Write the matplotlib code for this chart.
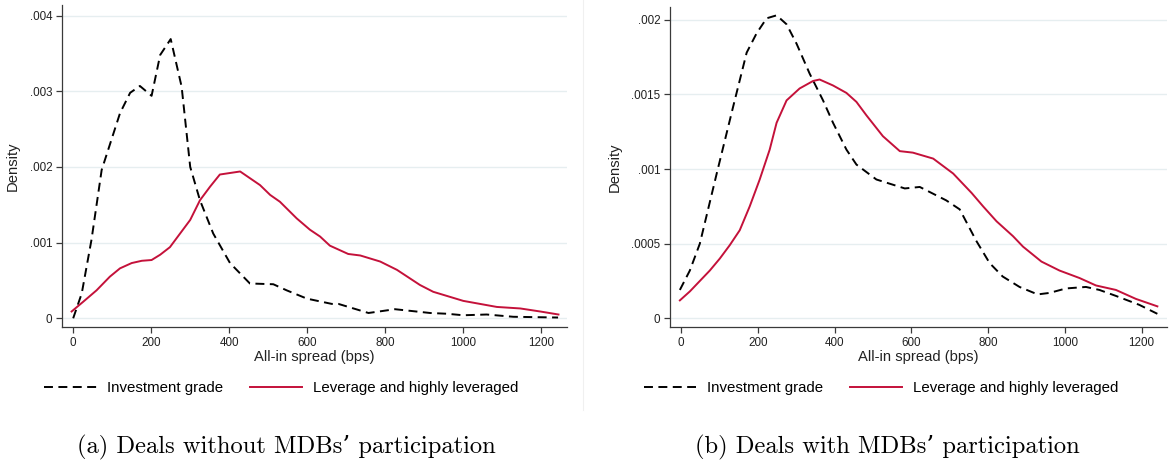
import matplotlib
matplotlib.use("Agg")
import matplotlib.pyplot as plt
from matplotlib.lines import Line2D

plt.rcParams['font.family'] = ['Liberation Sans', 'DejaVu Sans']

# ---------------- data ----------------
# Panel (a): deals without MDBs' participation
a_ig_x = [0, 22, 47, 73, 120, 146, 171, 201, 223, 250, 278, 300, 325, 359, 402, 453,
          513, 547, 599, 663, 680, 757, 825, 915, 958, 1000, 1060, 1128, 1243]
a_ig_y = [0.0, 0.00033, 0.00104, 0.00196, 0.00271, 0.00298, 0.00307, 0.00294, 0.00348,
          0.00369, 0.00306, 0.00200, 0.00156, 0.00112, 0.00073, 0.00046, 0.00045, 0.00037,
          0.00026, 0.00019, 0.00019, 0.00007, 0.00012, 0.00007, 0.00006, 0.00004, 0.00005,
          0.00002, 0.00001]
a_lev_x = [-4, 26, 60, 94, 120, 150, 176, 201, 223, 248, 274, 300, 325, 351, 376, 402, 428,
           479, 505, 530, 573, 607, 633, 658, 705, 736, 787, 830, 889, 923, 1000, 1086,
           1146, 1197, 1244]
a_lev_y = [0.00009, 0.00022, 0.00037, 0.00055, 0.00066, 0.00073, 0.00076, 0.00077, 0.00084,
           0.00094, 0.00112, 0.00130, 0.00156, 0.00174, 0.00190, 0.00192, 0.00194, 0.00176,
           0.00163, 0.00154, 0.00132, 0.00117, 0.00108, 0.00096, 0.00085, 0.00083, 0.00075,
           0.00064, 0.00044, 0.00035, 0.00023, 0.00015, 0.00013, 0.00009, 0.00005]

# Panel (b): deals with MDBs' participation
b_ig_x = [-3, 23, 49, 93, 136, 171, 197, 223, 249, 275, 301, 335, 370, 396, 431, 457, 509,
          583, 622, 691, 726, 769, 804, 838, 882, 929, 960, 1003, 1055, 1090, 1133, 1194, 1241]
b_ig_y = [0.00019, 0.00032, 0.00050, 0.00097, 0.00142, 0.00178, 0.00191, 0.00201, 0.00203,
          0.00197, 0.00184, 0.00164, 0.00146, 0.00131, 0.00113, 0.00103, 0.00093, 0.00087,
          0.00088, 0.00079, 0.00073, 0.00052, 0.00037, 0.00028, 0.00021, 0.00016, 0.00017,
          0.00020, 0.00021, 0.00019, 0.00015, 0.00009, 0.00003]
b_lev_x = [-3, 23, 49, 75, 101, 127, 153, 179, 205, 231, 249, 275, 309, 344, 361, 396, 431,
           457, 483, 526, 570, 604, 657, 709, 757, 787, 822, 865, 891, 939, 986, 1038, 1081,
           1133, 1185, 1241]
b_lev_y = [0.00012, 0.00018, 0.00025, 0.00032, 0.00040, 0.00049, 0.00059, 0.00075, 0.00093,
           0.00113, 0.00131, 0.00146, 0.00154, 0.00159, 0.00160, 0.00156, 0.00151, 0.00145,
           0.00136, 0.00122, 0.00112, 0.00111, 0.00107, 0.00097, 0.00084, 0.00075, 0.00065,
           0.00055, 0.00048, 0.00038, 0.00032, 0.00027, 0.00022, 0.00019, 0.00013, 0.00008]

x_ticks = [0, 200, 400, 600, 800, 1000, 1200]
a_yticks = [0, 0.001, 0.002, 0.003, 0.004]
a_ylabels = ['0', '.001', '.002', '.003', '.004']
b_yticks = [0, 0.0005, 0.001, 0.0015, 0.002]
b_ylabels = ['0', '.0005', '.001', '.0015', '.002']

series_names = ['Investment grade', 'Leverage and highly leveraged']
captions = ["(a) Deals without MDBs\u2019 participation", "(b) Deals with MDBs\u2019 participation"]

# ---------------- styling ----------------
RED = '#c4113a'
GRID = '#e6eef0'
SPINE = '#3a3a3a'
FS_TICK = 8.4
FS_LAB = 10.6
FS_LEG = 10.8

fig = plt.figure(figsize=(11.74, 4.68), dpi=100)
ax_a = fig.add_axes([0.0528, 0.3013, 0.4302, 0.6880])
ax_b = fig.add_axes([0.5707, 0.3013, 0.4233, 0.6838])


def style(ax, ig_x, ig_y, lev_x, lev_y, yticks, ylabels, ylim):
    ax.plot(ig_x, ig_y, color='black', lw=1.4, dashes=(4.6, 2.8), label=series_names[0])
    ax.plot(lev_x, lev_y, color=RED, lw=1.4, label=series_names[1])
    ax.set_xlim(-28.7, 1266)
    ax.set_ylim(*ylim)
    ax.set_xticks(x_ticks)
    ax.set_xticklabels([str(t) for t in x_ticks], fontsize=FS_TICK)
    ax.set_yticks(yticks)
    ax.set_yticklabels(ylabels, fontsize=FS_TICK)
    for y in yticks:
        ax.axhline(y, color=GRID, lw=1.0, zorder=0)
    for s in ['top', 'right']:
        ax.spines[s].set_visible(False)
    for s in ['left', 'bottom']:
        ax.spines[s].set_color(SPINE)
        ax.spines[s].set_linewidth(0.9)
    ax.tick_params(axis='both', direction='out', length=4, width=0.9, color=SPINE,
                   labelcolor='#222222', pad=3)
    ax.set_xlabel('All-in spread (bps)', fontsize=FS_LAB, labelpad=1, color='#222222')
    ax.set_ylabel('Density', fontsize=FS_LAB, labelpad=7, color='#222222')


style(ax_a, a_ig_x, a_ig_y, a_lev_x, a_lev_y, a_yticks, a_ylabels, (-0.000115, 0.00414))
style(ax_b, b_ig_x, b_ig_y, b_lev_x, b_lev_y, b_yticks, b_ylabels, (-0.0000583, 0.002086))

for ax, x0 in [(ax_a, 0.0375), (ax_b, 0.5485)]:
    ax.legend(loc='center left', bbox_to_anchor=(x0, 1 - 388 / 468),
              bbox_transform=fig.transFigure, ncol=2, frameon=False, fontsize=FS_LEG,
              handlelength=3.5, handletextpad=0.72, columnspacing=1.75, borderaxespad=0,
              borderpad=0)

# faint divider between panels
fig.add_artist(Line2D([583 / 1174, 583 / 1174], [1 - 410 / 468, 1.0],
                      transform=fig.transFigure, color='#f0f0f0', lw=0.8))

fig.text(286 / 1174, 1 - 447 / 468, captions[0], family=['cmr10', 'DejaVu Serif'],
         fontsize=17.7, ha='center', va='center')
fig.text(887 / 1174, 1 - 447 / 468, captions[1], family=['cmr10', 'DejaVu Serif'],
         fontsize=17.7, ha='center', va='center')

fig.savefig('out.png', dpi=100)
